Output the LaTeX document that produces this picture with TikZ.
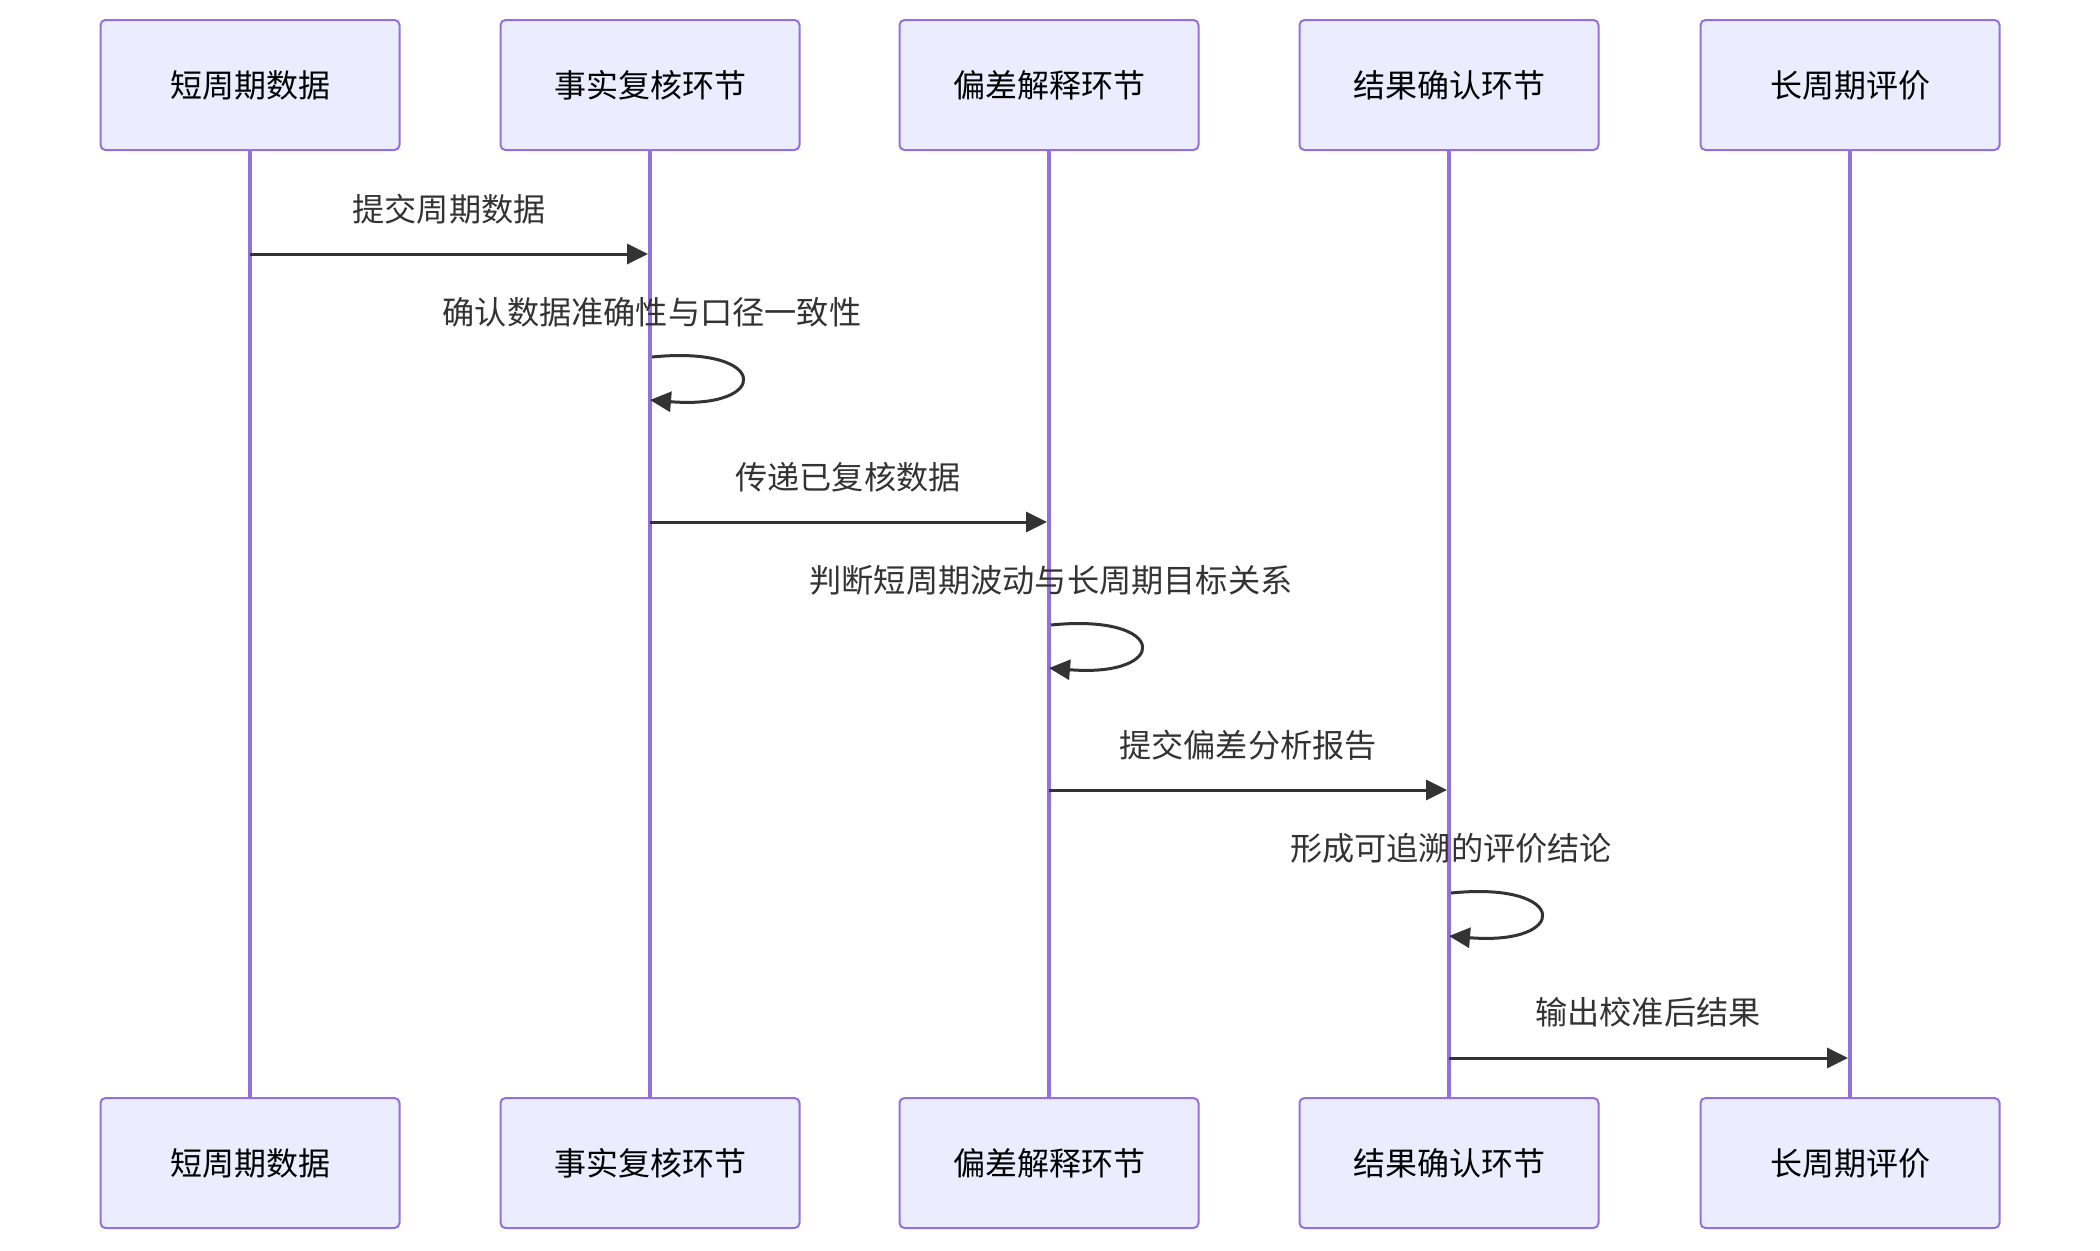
\documentclass[tikz,border=0pt]{standalone}
\usepackage{fontspec}
\setmainfont{Noto Sans CJK SC}
\usetikzlibrary{arrows.meta}
\definecolor{actfill}{HTML}{ECECFF}
\definecolor{actline}{HTML}{9370DB}
\definecolor{msg}{HTML}{333333}
\tikzset{
  actor/.style={draw=actline, fill=actfill, line width=2pt, rounded corners=5pt,
    minimum width=299pt, minimum height=130pt, inner sep=0pt,
    font=\fontsize{32}{38}\selectfont, text=black},
  life/.style={draw=actline, line width=3.4pt},
  msgline/.style={draw=msg, line width=3pt, -{Triangle[length=21pt,width=20pt]}},
  msglabel/.style={font=\fontsize{32.2}{37}\selectfont, text=msg, inner sep=0pt}
}
\begin{document}
\begin{tikzpicture}[x=1pt,y=-1pt]
\useasboundingbox (0,0) rectangle (2100,1250);
% actors
\foreach \n/\x/\t in {a/250/短周期数据, b/650/事实复核环节, c/1049/偏差解释环节, d/1449/结果确认环节, e/1850/长周期评价}{
  \node[actor] (\n top) at (\x,85) {\t};
  \node[actor] (\n bot) at (\x,1163) {\t};
  \draw[life] (\n top.south) -- (\n bot.north);
}
% message rows
\coordinate (m1) at (0,254);
\coordinate (s1) at (0,357);
\coordinate (m2) at (0,522);
\coordinate (s2) at (0,625);
\coordinate (m3) at (0,790);
\coordinate (s3) at (0,893);
\coordinate (m4) at (0,1058);
% message 1
\draw[msgline] (atop.south |- m1) -- ([xshift=-2pt]btop.south |- m1);
\node[msglabel] (l1) at (449,209) {提交周期数据};
% self 1
\node[msglabel] (l2) at (652,312) {确认数据准确性与口径一致性};
\draw[msgline] ([xshift=2pt]btop.south |- s1) .. controls +(119,-12) and +(121,10) .. ++(-2,43);
% message 2
\draw[msgline] (btop.south |- m2) -- ([xshift=-2pt]ctop.south |- m2);
\node[msglabel] (l3) at (848,477) {传递已复核数据};
% self 2
\node[msglabel] (l4) at (1051,580) {判断短周期波动与长周期目标关系};
\draw[msgline] ([xshift=2pt]ctop.south |- s2) .. controls +(119,-12) and +(121,10) .. ++(-2,43);
% message 3
\draw[msgline] (ctop.south |- m3) -- ([xshift=-2pt]dtop.south |- m3);
\node[msglabel] (l5) at (1248,745) {提交偏差分析报告};
% self 3
\node[msglabel] (l6) at (1451,848) {形成可追溯的评价结论};
\draw[msgline] ([xshift=2pt]dtop.south |- s3) .. controls +(119,-12) and +(121,10) .. ++(-2,43);
% message 4
\draw[msgline] (dtop.south |- m4) -- ([xshift=-2pt]etop.south |- m4);
\node[msglabel] (l7) at (1648,1012) {输出校准后结果};
\end{tikzpicture}
\end{document}
